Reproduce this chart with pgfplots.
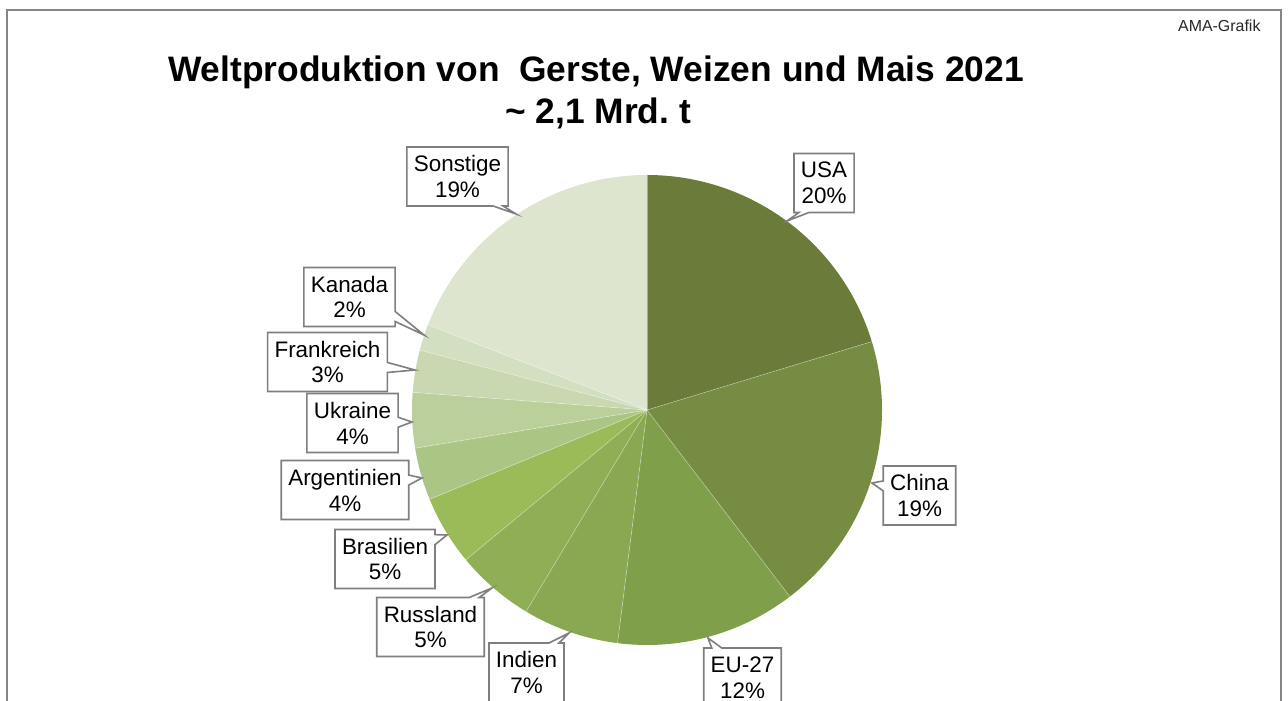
\documentclass[border=0pt]{standalone}
\usepackage{pgfplots}
\pgfplotsset{compat=1.18}
\usepackage{pgfplotstable}
\usetikzlibrary{shapes.callouts}
\usepackage{fontspec}
\setmainfont{Liberation Sans}
\frenchspacing

\definecolor{cA}{HTML}{6A7B3A}
\definecolor{cB}{HTML}{758C42}
\definecolor{cC}{HTML}{809F4B}
\definecolor{cD}{HTML}{8AA852}
\definecolor{cE}{HTML}{90AE56}
\definecolor{cF}{HTML}{9BBB59}
\definecolor{cG}{HTML}{ABC585}
\definecolor{cH}{HTML}{BBCF9B}
\definecolor{cI}{HTML}{C9D8B0}
\definecolor{cJ}{HTML}{D3DFC1}
\definecolor{cK}{HTML}{DDE5CF}
\definecolor{framegray}{HTML}{868686}
\definecolor{boxgray}{HTML}{7F7F7F}

% value = share in percent, pct = printed label
\pgfplotstableread{
name        value pct col lx     ly     px    py
USA         20.3  20  cA  177    227    140   189
China       19.3  19  cB  272.5  -85.5  225   -73
EU-27       12.4  12  cC  95.5   -267.5 61    -228
Indien      6.6   7   cD  -120.5 -262.5 -78   -223
Russland    5.4   5   cE  -216.5 -217   -155  -178
Brasilien   4.8   5   cF  -262   -149   -200  -125
Argentinien 3.6   4   cG  -302   -80    -225  -68
Ukraine     3.8   4   cH  -294.5 -13    -235  -12
Frankreich  2.9   3   cI  -319.5 48     -232  40
Kanada      1.8   2   cJ  -297.5 113    -223  75
Sonstige    19.1  19  cK  -189.5 233.5  -131  196
}\pietable

\begin{document}
\begin{tikzpicture}
\begin{axis}[
  x=1bp, y=1bp,
  xmin=-647, xmax=641, ymin=-291, ymax=410,
  hide axis, clip=false,
]
\pgfplotsextra{
  % frame
  \draw[framegray, line width=2bp] (axis cs:-640,-300) -- (axis cs:-640,400) -- (axis cs:634,400) -- (axis cs:634,-300);
  % wedges
  \xdef\curang{90}
  \foreach \i in {0,...,10}{
    \pgfplotstablegetelem{\i}{value}\of\pietable \let\myval\pgfplotsretval
    \pgfplotstablegetelem{\i}{col}\of\pietable \let\mycol\pgfplotsretval
    \pgfmathsetmacro\endang{\curang-3.6*\myval}
    \fill[\mycol] (axis cs:0,0) -- ++(\curang:235bp) arc[start angle=\curang, end angle=\endang, radius=235bp] -- cycle;
    \xdef\curang{\endang}
  }
  % separators
  \xdef\curang{90}
  \foreach \i in {0,...,10}{
    \pgfplotstablegetelem{\i}{value}\of\pietable \let\myval\pgfplotsretval
    \draw[white, opacity=0.35, line width=0.7bp] (axis cs:0,0) -- ++(\curang:235bp);
    \pgfmathsetmacro\endang{\curang-3.6*\myval}
    \xdef\curang{\endang}
  }
  % labels
  \foreach \i in {0,...,10}{
    \pgfplotstablegetelem{\i}{name}\of\pietable \let\myname\pgfplotsretval
    \pgfplotstablegetelem{\i}{pct}\of\pietable \let\mypct\pgfplotsretval
    \pgfplotstablegetelem{\i}{lx}\of\pietable \let\mylx\pgfplotsretval
    \pgfplotstablegetelem{\i}{ly}\of\pietable \let\myly\pgfplotsretval
    \pgfplotstablegetelem{\i}{px}\of\pietable \let\mypx\pgfplotsretval
    \pgfplotstablegetelem{\i}{py}\of\pietable \let\mypy\pgfplotsretval
    \node[rectangle callout, draw=boxgray, fill=white, line width=1.6bp,
          callout absolute pointer={(axis cs:\mypx,\mypy)}, callout pointer width=10bp,
          inner xsep=7bp, inner ysep=0pt, minimum height=59bp, align=center,
          font=\fontsize{22.5}{26}\selectfont]
      at (axis cs:\mylx,\myly) {\myname\\\mypct\%};
  }
  % titles
  \node[anchor=base, font=\fontsize{35.5}{40}\selectfont\bfseries] at (axis cs:-51,328)
    {Weltproduktion von\ \ Gerste, Weizen und Mais 2021};
  \node[anchor=base, font=\fontsize{35.5}{40}\selectfont\bfseries] at (axis cs:-49,286)
    {\textasciitilde{} 2,1 Mrd.\ t};
  \node[anchor=base east, font=\fontsize{16}{18}\selectfont, text=black!85] at (axis cs:617,378) {AMA-Grafik};
}
\end{axis}
\pgfresetboundingbox
\useasboundingbox (current axis.south west) rectangle (current axis.north east);
\end{tikzpicture}
\end{document}
